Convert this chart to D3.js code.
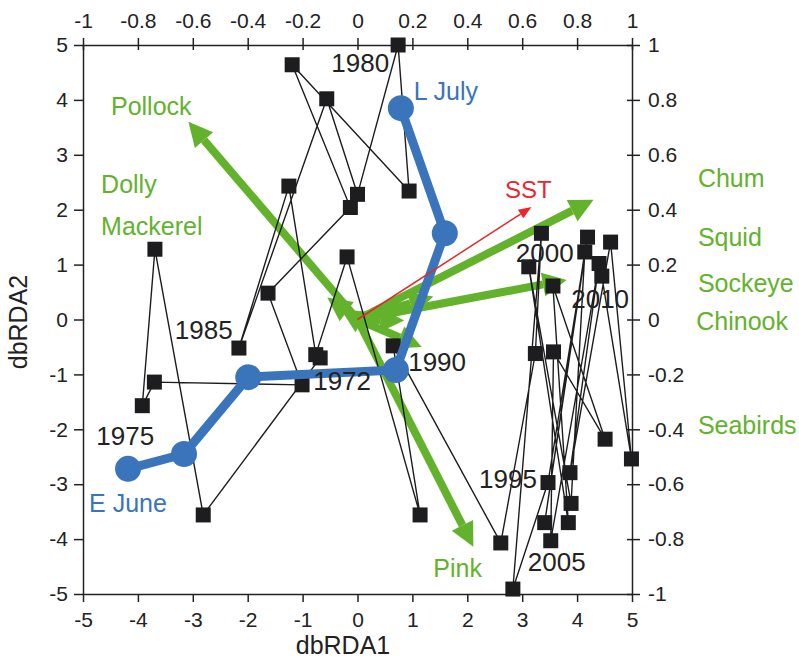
<!DOCTYPE html>
<html>
<head>
<meta charset="utf-8">
<script src="https://cdn.jsdelivr.net/npm/d3@7"></script>
<style>
  body { margin: 0; background: #fff; }
  text { font-family: "Liberation Sans", Arial, sans-serif; }
</style>
</head>
<body>
<div class="chart"></div>
<script>
// yearly trajectory (dbRDA1, dbRDA2)
var years = [1972, 1973, 1974, 1975, 1976, 1977, 1978, 1979, 1980, 1981,
             1982, 1983, 1984, 1985, 1986, 1987, 1988, 1989, 1990, 1991,
             1992, 1993, 1994, 1995, 1996, 1997, 1998, 1999, 2000, 2001,
             2002, 2003, 2004, 2005, 2006, 2007, 2008, 2009, 2010];
var rda1 = [-0.68, -2.81, -3.69, -3.92, -3.70, -1.01, -1.63, -0.13, -1.19, 0.94,
            0.74, 0.00, -0.56, -2.16, -1.25, -0.76, -0.19, 1.14, 0.65, 2.61,
            3.24, 3.35, 2.83, 3.47, 4.19, 3.41, 4.14, 3.89, 3.12, 3.84,
            3.56, 4.51, 3.57, 3.52, 4.40, 3.87, 4.61, 4.99, 4.45];
var rda2 = [-0.70, -3.56, 1.28, -1.57, -1.14, -1.19, 0.48, 2.04, 4.64, 2.34,
            5.00, 2.28, 4.02, -0.52, 2.43, -0.64, 1.14, -3.56, -0.48, -4.07,
            -0.62, 1.57, -4.91, -2.97, 1.50, -3.70, 1.23, -3.35, 0.96, -3.70,
            0.61, -2.18, -0.59, -4.03, 1.02, -2.79, 1.41, -2.54, 0.79];

// labelled years and where their labels sit
var yearLabels = ["1972", "1975", "1980", "1985", "1990", "1995", "2000", "2005", "2010"];
var yearLabelX = [-0.28, -4.23, 0.05, -2.80, 1.45, 2.74, 3.41, 3.63, 4.42];
var yearLabelY = [-1.12, -2.12, 4.67, -0.19, -0.77, -2.90, 1.21, -4.42, 0.37];

// seasonal (timing) trajectory, E June -> L July
var seasonX = [-4.18, -3.16, -1.99, 0.70, 1.59, 0.79];
var seasonY = [-2.72, -2.45, -1.05, -0.92, 1.57, 3.85];
var seasonNames = ["E June", "L July"];
var seasonNameX = [-4.18, 1.61];
var seasonNameY = [-3.34, 4.16];

// species vectors
var species = ["Pollock", "Dolly", "Mackerel", "Chum", "Squid", "Sockeye", "Chinook", "Seabirds", "Pink"];
var vecX = [-3.08, -0.30, -0.55, 4.30, 1.38, 3.81, 0.85, 1.17, 2.11];
var vecY = [3.60, 0.18, 0.40, 2.18, 0.42, 0.72, -0.02, -0.50, -4.14];
var speciesLabelX = [-4.49, -4.67, -4.67, 6.20, 6.20, 6.20, 6.17, 6.20, 1.38];
var speciesLabelY = [3.89, 2.47, 1.70, 2.58, 1.50, 0.66, -0.03, -1.92, -4.52];

// environmental vector
var sstX = 3.17, sstY = 2.05;
var sstLabelX = 3.11, sstLabelY = 2.36;

var xTicks = [-5, -4, -3, -2, -1, 0, 1, 2, 3, 4, 5];
var yTicks = [-5, -4, -3, -2, -1, 0, 1, 2, 3, 4, 5];
var scoreTicks = [-1, -0.8, -0.6, -0.4, -0.2, 0, 0.2, 0.4, 0.6, 0.8, 1];

var W = 799, H = 660,
    plot = {left: 83, right: 632, top: 45, bottom: 594};

var green = "#63b22c", blue = "#3a74ba", red = "#e8262b", ink = "#1d1d1f";

var svg = d3.select(".chart")
  .append("svg")
    .attr("width", W)
    .attr("height", H);

var x = d3.scaleLinear().domain([-5, 5]).range([plot.left, plot.right]);
var y = d3.scaleLinear().domain([-5, 5]).range([plot.bottom, plot.top]);
var x2 = d3.scaleLinear().domain([-1, 1]).range([plot.left, plot.right]);
var y2 = d3.scaleLinear().domain([-1, 1]).range([plot.bottom, plot.top]);

var fmt = function(d) { return String(+d.toFixed(1)); };

function styleAxis(g) {
    g.selectAll("path, line").attr("stroke", "#222").attr("stroke-width", 1.5);
    g.selectAll("text").attr("fill", "#222").attr("font-size", "21px")
        .attr("font-family", "Liberation Sans, Arial, sans-serif");
}

// axes
svg.append("g")
    .attr("transform", "translate(0," + plot.bottom + ")")
    .call(d3.axisBottom(x).tickValues(xTicks).tickFormat(fmt).tickSize(8).tickSizeOuter(0).tickPadding(10))
    .call(styleAxis);

svg.append("g")
    .attr("transform", "translate(" + plot.left + ",0)")
    .call(d3.axisLeft(y).tickValues(yTicks).tickFormat(fmt).tickSize(9).tickSizeOuter(0).tickPadding(6))
    .call(styleAxis);

var topAxis = svg.append("g")
    .attr("transform", "translate(0," + plot.top + ")")
    .call(d3.axisTop(x2).tickValues(scoreTicks).tickFormat(fmt).tickSize(7).tickSizeOuter(0).tickPadding(10))
    .call(styleAxis);
topAxis.selectAll(".tick line").attr("y1", 5);

var rightAxis = svg.append("g")
    .attr("transform", "translate(" + plot.right + ",0)")
    .call(d3.axisRight(y2).tickValues(scoreTicks).tickFormat(fmt).tickSize(8).tickSizeOuter(0).tickPadding(8))
    .call(styleAxis);
rightAxis.selectAll(".tick line").attr("x1", -5);

// axis titles
svg.append("text")
    .attr("x", 343)
    .attr("y", 654)
    .attr("text-anchor", "middle")
    .attr("font-size", "25px")
    .attr("fill", "#222")
    .text("dbRDA1");

svg.append("text")
    .attr("transform", "translate(27,322) rotate(-90)")
    .attr("text-anchor", "middle")
    .attr("font-size", "25px")
    .attr("fill", "#222")
    .text("dbRDA2");

// arrow helper (pixel space)
function arrow(g, xa, ya, xb, yb, color, w, hl, hw) {
    var dx = xb - xa, dy = yb - ya,
        len = Math.sqrt(dx * dx + dy * dy),
        ux = dx / len, uy = dy / len,
        bx = xb - ux * hl, by = yb - uy * hl;
    g.append("line")
        .attr("x1", xa).attr("y1", ya)
        .attr("x2", bx).attr("y2", by)
        .attr("stroke", color)
        .attr("stroke-width", w);
    g.append("polygon")
        .attr("points", [
            [xb, yb],
            [bx - uy * hw, by + ux * hw],
            [bx + uy * hw, by - ux * hw]
        ].map(function(p) { return p.join(","); }).join(" "))
        .attr("fill", color);
}

// species vectors
var vecs = svg.append("g");
species.forEach(function(s, i) {
    arrow(vecs, x(0), y(0), x(vecX[i]), y(vecY[i]), green, 8, 24, 12);
});

// yearly trajectory
var pts = years.map(function(yr, i) { return {year: yr, a: rda1[i], b: rda2[i]}; });

svg.append("path")
    .datum(pts)
    .attr("fill", "none")
    .attr("stroke", ink)
    .attr("stroke-width", 1.4)
    .attr("d", d3.line()
        .x(function(d) { return x(d.a); })
        .y(function(d) { return y(d.b); }));

svg.selectAll("rect.yr")
    .data(pts)
    .enter()
    .append("rect")
    .attr("class", "yr")
    .attr("x", function(d) { return x(d.a) - 7.5; })
    .attr("y", function(d) { return y(d.b) - 7.5; })
    .attr("width", 15)
    .attr("height", 15)
    .attr("fill", ink);

// seasonal trajectory
var season = seasonX.map(function(v, i) { return {a: v, b: seasonY[i]}; });

svg.append("path")
    .datum(season)
    .attr("fill", "none")
    .attr("stroke", blue)
    .attr("stroke-width", 9)
    .attr("stroke-linejoin", "round")
    .attr("d", d3.line()
        .x(function(d) { return x(d.a); })
        .y(function(d) { return y(d.b); }));

svg.selectAll("circle")
    .data(season)
    .enter()
    .append("circle")
    .attr("cx", function(d) { return x(d.a); })
    .attr("cy", function(d) { return y(d.b); })
    .attr("r", 13)
    .attr("fill", blue);

// SST
arrow(svg.append("g"), x(0), y(0), x(sstX), y(sstY), red, 1.5, 13, 5);

svg.append("text")
    .attr("x", x(sstLabelX))
    .attr("y", y(sstLabelY))
    .attr("text-anchor", "middle")
    .attr("dominant-baseline", "central")
    .attr("font-size", "24px")
    .attr("fill", red)
    .text("SST");

// labels
svg.selectAll("text.year")
    .data(yearLabels)
    .enter()
    .append("text")
    .attr("class", "year")
    .attr("x", function(d, i) { return x(yearLabelX[i]); })
    .attr("y", function(d, i) { return y(yearLabelY[i]); })
    .attr("text-anchor", "middle")
    .attr("dominant-baseline", "central")
    .attr("font-size", "26px")
    .attr("fill", "#222")
    .text(function(d) { return d; });

svg.selectAll("text.species")
    .data(species)
    .enter()
    .append("text")
    .attr("class", "species")
    .attr("x", function(d, i) { return x(speciesLabelX[i]); })
    .attr("y", function(d, i) { return y(speciesLabelY[i]); })
    .attr("dominant-baseline", "central")
    .attr("font-size", "25px")
    .attr("fill", green)
    .text(function(d) { return d; });

svg.selectAll("text.season")
    .data(seasonNames)
    .enter()
    .append("text")
    .attr("class", "season")
    .attr("x", function(d, i) { return x(seasonNameX[i]); })
    .attr("y", function(d, i) { return y(seasonNameY[i]); })
    .attr("text-anchor", "middle")
    .attr("dominant-baseline", "central")
    .attr("font-size", "25px")
    .attr("fill", blue)
    .text(function(d) { return d; });
</script>
</body>
</html>
